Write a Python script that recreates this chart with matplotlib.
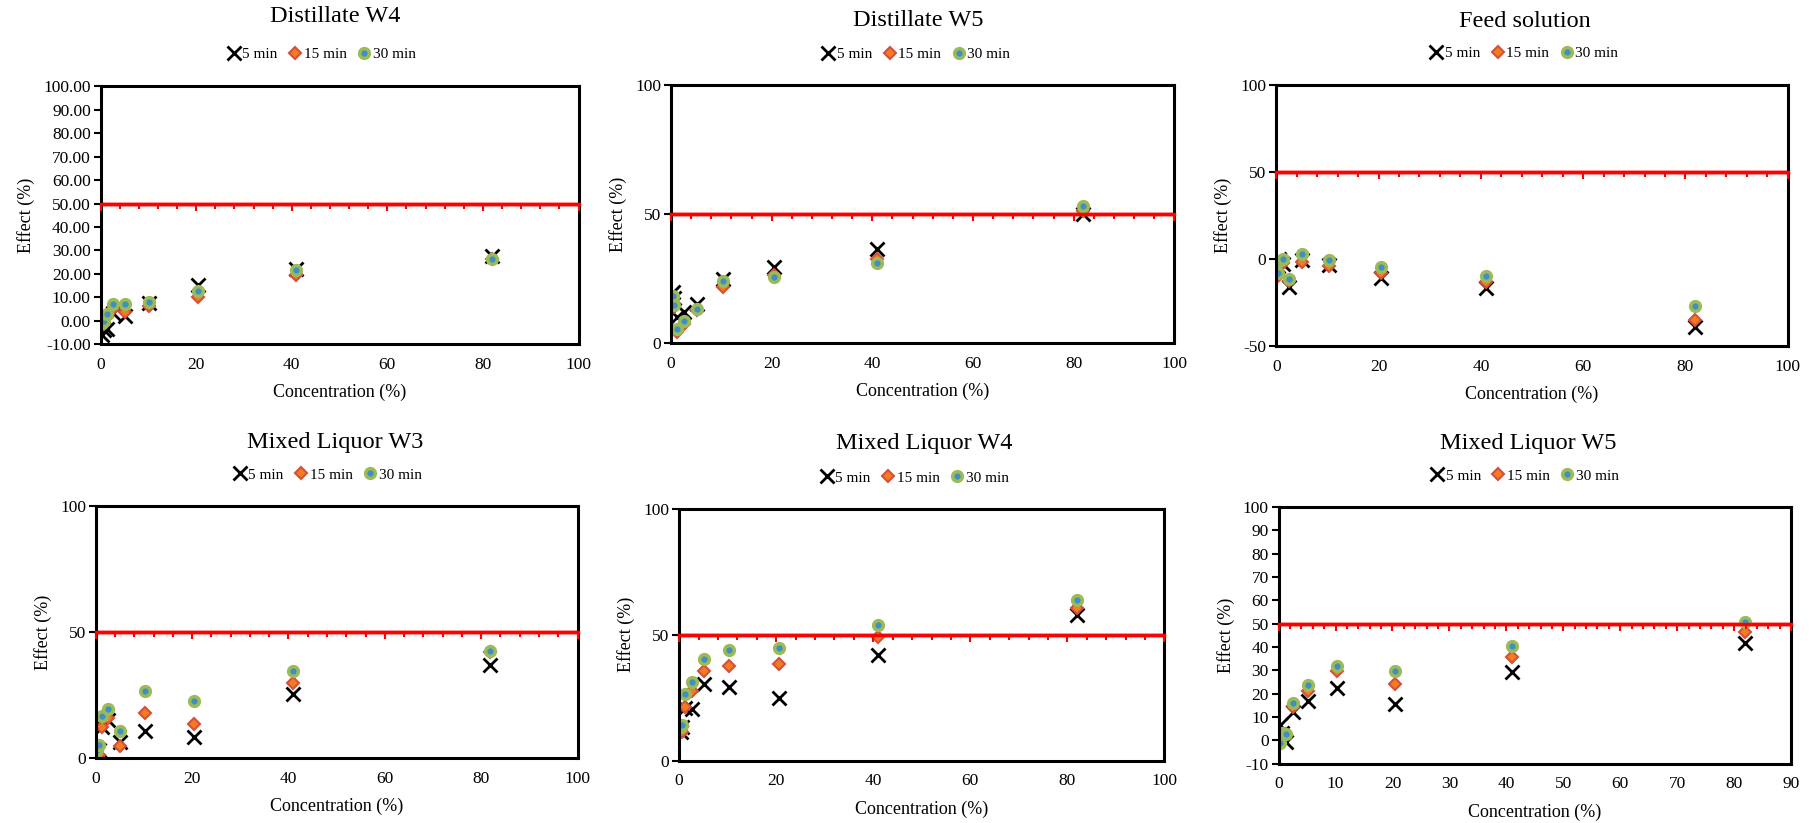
import matplotlib
matplotlib.use("Agg")
import matplotlib.pyplot as plt
from matplotlib.ticker import MultipleLocator, FormatStrFormatter

plt.rcParams['font.family'] = ['Liberation Serif', 'DejaVu Serif']
###############################################################################
# Data (concentration in %, effect in %)
conc = [0.32, 0.64, 1.28, 2.56, 5.12, 10.24, 20.48, 40.96, 81.92]
times = ["5 min", "15 min", "30 min"]
threshold = 50

dist_w4_5 = [-6.0, -4.0, -3.4, 3.3, 1.9, 7.6, 15.0, 22.0, 27.5]
dist_w4_15 = [-2.0, -1.4, 1.4, 5.1, 3.7, 6.3, 10.0, 19.5, 26.5]
dist_w4_30 = [-1.0, -0.3, 2.9, 6.9, 7.1, 8.0, 12.6, 21.5, 26.5]

dist_w5_5 = [20.0, 17.5, 10.0, 12.0, 15.1, 25.0, 29.5, 36.6, 50.0]
dist_w5_15 = [17.0, 14.0, 4.2, 7.6, 12.9, 21.7, 26.2, 32.5, 51.0]
dist_w5_30 = [18.4, 14.7, 5.3, 8.6, 13.2, 24.0, 25.6, 31.2, 53.0]

feed_5 = [-4.0, 0.0, -3.0, -16.0, -0.5, -3.5, -10.5, -16.2, -39.0]
feed_15 = [-9.5, -3.0, -2.0, -12.4, -1.5, -3.6, -8.0, -13.3, -34.8]
feed_30 = [-7.8, -1.1, 0.0, -11.6, 2.9, -0.2, -4.4, -9.5, -26.6]

ml_w3_5 = [2.0, 3.5, 12.5, 15.3, 6.5, 10.7, 8.4, 25.6, 37.1]
ml_w3_15 = [0.3, 1.5, 12.5, 16.0, 4.8, 18.0, 13.7, 30.0, 42.3]
ml_w3_30 = [3.5, 5.2, 16.6, 19.5, 10.7, 26.5, 22.7, 34.7, 42.7]

ml_w4_5 = [11.5, 13.5, 21.0, 20.5, 30.5, 29.4, 25.0, 42.0, 57.8]
ml_w4_15 = [12.5, 11.3, 21.5, 27.8, 35.5, 37.7, 38.2, 49.1, 60.6]
ml_w4_30 = [13.5, 14.3, 26.3, 31.2, 40.5, 43.8, 44.9, 53.7, 63.8]

ml_w5_5 = [6.5, 3.0, -0.7, 12.2, 16.8, 22.5, 15.4, 29.1, 41.9]
ml_w5_15 = [2.9, 2.9, 2.6, 14.1, 21.2, 29.8, 24.2, 35.9, 46.6]
ml_w5_30 = [-1.1, 3.3, 2.9, 16.1, 23.7, 31.9, 29.7, 40.5, 50.6]

titles = ["Distillate W4", "Distillate W5", "Feed solution",
          "Mixed Liquor W3", "Mixed Liquor W4", "Mixed Liquor W5"]
series = [(dist_w4_5, dist_w4_15, dist_w4_30),
          (dist_w5_5, dist_w5_15, dist_w5_30),
          (feed_5, feed_15, feed_30),
          (ml_w3_5, ml_w3_15, ml_w3_30),
          (ml_w4_5, ml_w4_15, ml_w4_30),
          (ml_w5_5, ml_w5_15, ml_w5_30)]
###############################################################################
# Axis setup for each panel: ylim, ystep, yformat, xmax, xmajor, xminor
axis_cfg = [((-10, 100), 10, "%.2f", 100, 20, 4),
            ((0, 100), 50, "%d", 100, 20, 4),
            ((-50, 100), 50, "%d", 100, 20, 4),
            ((0, 100), 50, "%d", 100, 20, 4),
            ((0, 100), 50, "%d", 100, 20, 4),
            ((-10, 100), 10, "%d", 90, 10, 2)]

# axes rectangles in figure fractions
rects = [[0.0555, 0.582, 0.264, 0.313],
         [0.3705, 0.583, 0.278, 0.314],
         [0.7047, 0.579, 0.2825, 0.318],
         [0.0529, 0.0785, 0.266, 0.307],
         [0.3750, 0.0757, 0.268, 0.306],
         [0.7060, 0.0720, 0.283, 0.312]]
title_dx = [-0.01, -0.008, -0.014, -0.003, 0.005, -0.012]
legend_dx = [-0.038, -0.014, -0.016, -0.019, -0.015, -0.02]
title_dy = [0.27, 0.247, 0.24, 0.249, 0.259, 0.248]
legend_dy = [0.124, 0.119, 0.119, 0.123, 0.123, 0.121]
###############################################################################
styles = [dict(marker="x", color="black", markersize=10, markeredgewidth=2.0,
               linestyle="none"),
          dict(marker="D", markerfacecolor="#F47C20", markeredgecolor="#D4503A",
               markersize=6.5, markeredgewidth=1.5, linestyle="none"),
          dict(marker="o", markerfacecolor="#3F8FC4", markeredgecolor="#9BBB59",
               markersize=7, markeredgewidth=2.5, linestyle="none")]

fig = plt.figure(figsize=(18.11, 8.23), dpi=100)

for i in range(6):
    ax = fig.add_axes(rects[i])
    ylim, ystep, yfmt, xmax, xmaj, xmin_ = axis_cfg[i]

    for ys, st, lab in zip(series[i], styles, times):
        ax.plot(conc, ys, label=lab, **st)

    ax.axhline(threshold, color="red", linewidth=2.5, zorder=1)

    ax.set_xlim(0, xmax)
    ax.set_ylim(*ylim)
    ax.xaxis.set_major_locator(MultipleLocator(xmaj))
    ax.yaxis.set_major_locator(MultipleLocator(ystep))
    ax.yaxis.set_major_formatter(FormatStrFormatter(yfmt))
    ax.tick_params(axis="x", length=0, pad=9, labelsize=12.5)
    ax.tick_params(axis="y", direction="out", length=5, width=1.5,
                   labelsize=12.5, pad=2)
    for sp in ax.spines.values():
        sp.set_linewidth(2.2)

    # red crossing axis at the threshold with its tick marks
    tw = ax.twiny()
    tw.set_xlim(0, xmax)
    for name, sp in tw.spines.items():
        sp.set_visible(name == "bottom")
    tw.spines["bottom"].set_position(("data", threshold))
    tw.spines["bottom"].set_color("red")
    tw.spines["bottom"].set_linewidth(2.5)
    tw.xaxis.set_ticks_position("bottom")
    tw.xaxis.set_major_locator(MultipleLocator(xmaj))
    tw.xaxis.set_minor_locator(MultipleLocator(xmin_))
    tw.tick_params(axis="x", which="major", direction="out", length=5,
                   width=1.5, color="red", labelbottom=False)
    tw.tick_params(axis="x", which="minor", direction="out", length=3.5,
                   width=1.5, color="red")

    ax.set_xlabel("Concentration (%)", fontsize=13, labelpad=8)
    ax.set_ylabel("Effect (%)", fontsize=13, labelpad=6)

    ax.text(0.5 + title_dx[i], 1 + title_dy[i], titles[i],
            transform=ax.transAxes, ha="center", va="center", fontsize=17.5)
    ax.legend(loc="center",
              bbox_to_anchor=(0.5 + legend_dx[i], 1 + legend_dy[i]),
              ncol=3, frameon=False, fontsize=11, handletextpad=0.1,
              columnspacing=0.7, handlelength=0.9, borderaxespad=0,
              borderpad=0)

fig.savefig("out.png", dpi=100)
